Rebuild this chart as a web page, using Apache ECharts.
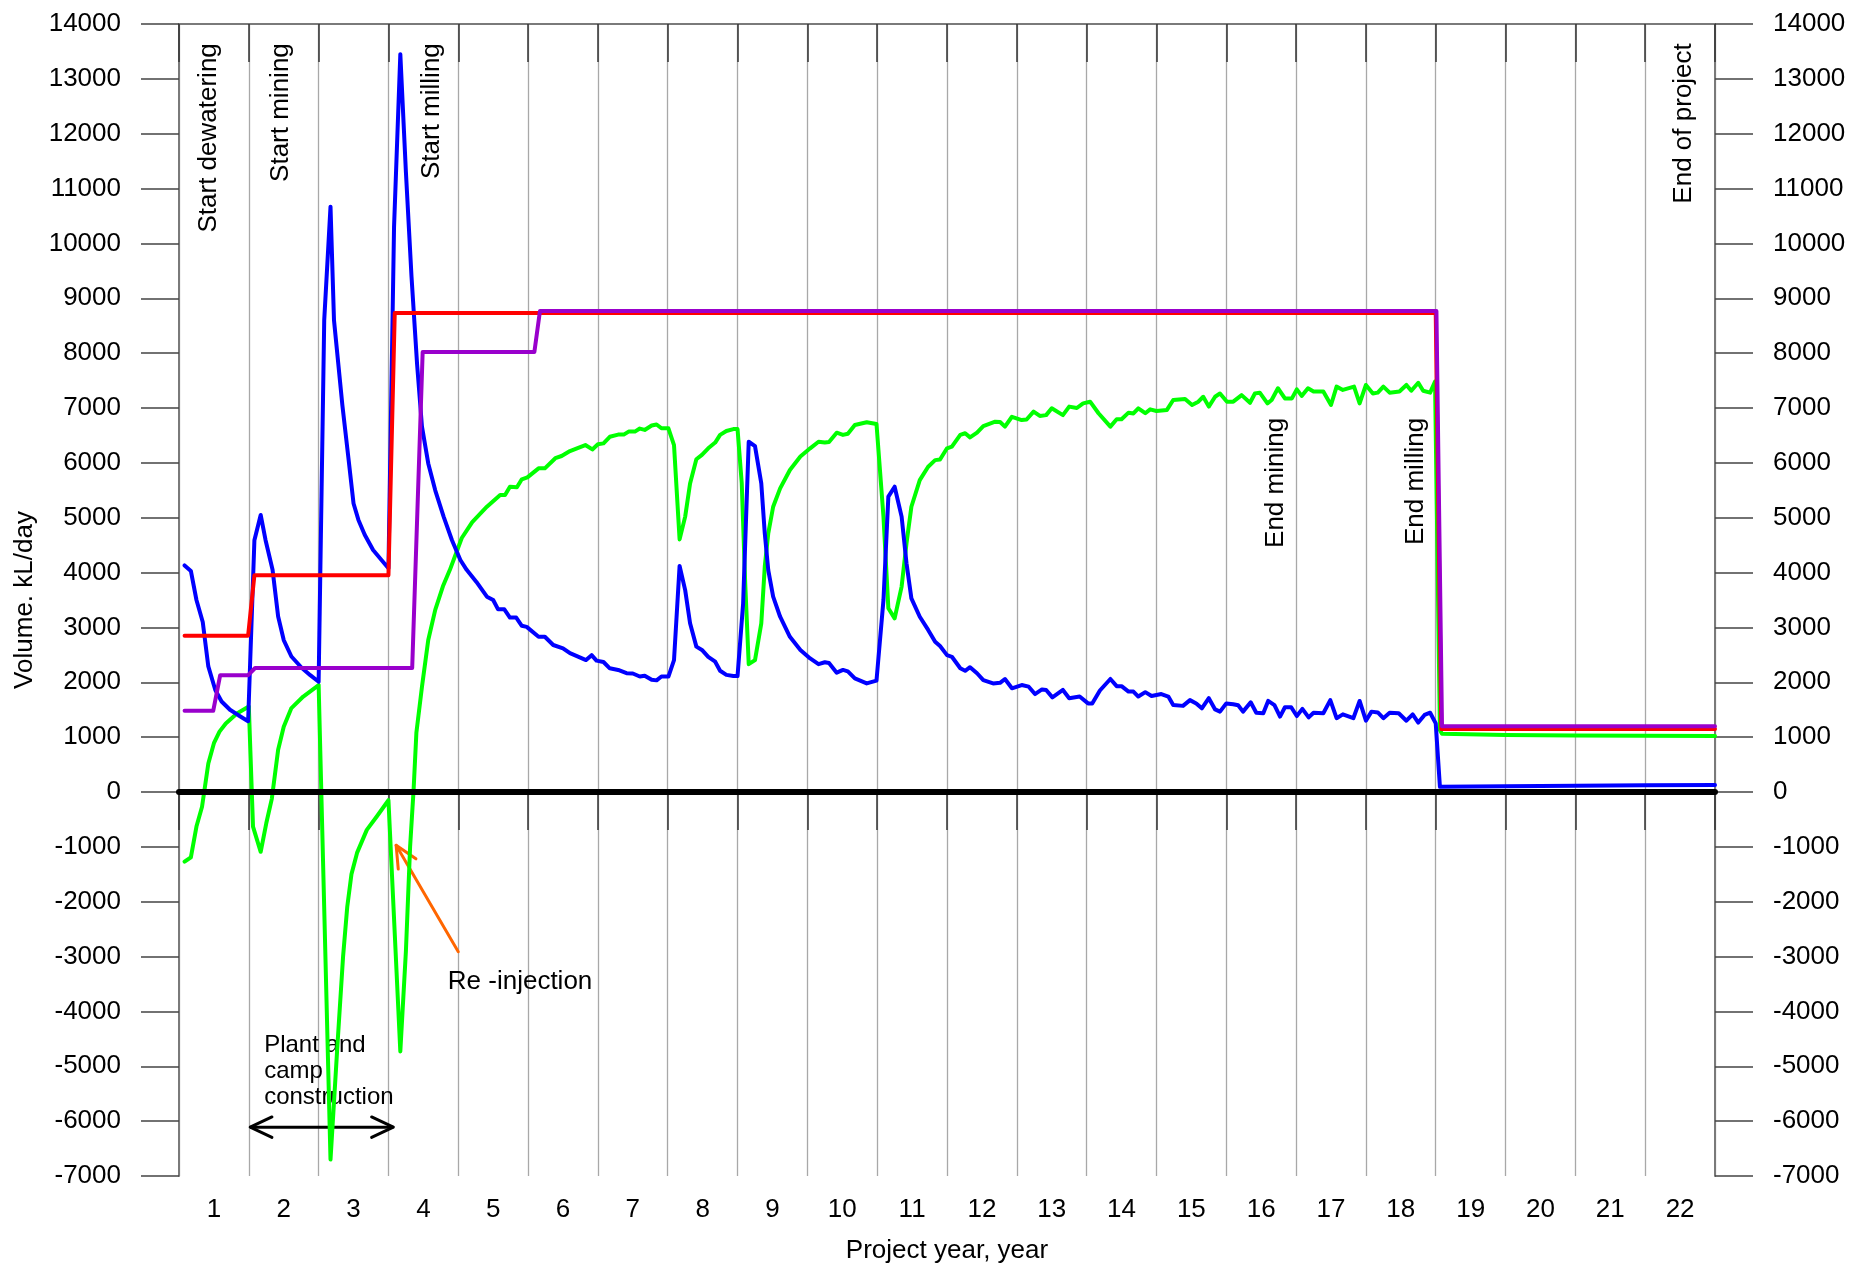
<!DOCTYPE html>
<html>
<head>
<meta charset="utf-8">
<title>Project water balance</title>
<script src="https://cdn.jsdelivr.net/npm/echarts@6.0.0/dist/echarts.min.js"></script>
<style>
  html, body { margin: 0; padding: 0; background: #fff; }
  #chart { width: 1870px; height: 1269px; }
</style>
</head>
<body>
<div id="chart"></div>
<script>
// tick labels of the year axis (one label per project year)
const yearLabels = ['1', '2', '3', '4', '5', '6', '7', '8', '9', '10', '11',
  '12', '13', '14', '15', '16', '17', '18', '19', '20', '21', '22']

// [project year, kL/day]
const redLine = [[0.08, 2850], [0.99, 2850], [1.08, 3950], [3.0, 3950], [3.09, 8730],
  [18.0, 8730], [18.08, 1150], [22, 1150]]

const purpleLine = [[0.08, 1480], [0.49, 1480], [0.59, 2130], [0.99, 2130], [1.09, 2260],
  [3.34, 2260], [3.49, 8020], [5.09, 8020], [5.17, 8770], [18.01, 8770], [18.09, 1200], [22, 1200]]

const blueLine = [
  [0.08, 4130], [0.17, 4030], [0.25, 3500], [0.34, 3100], [0.42, 2290], [0.52, 1860], [0.61, 1650],
  [0.73, 1500], [0.85, 1400], [0.99, 1290],
  [1.08, 4590], [1.17, 5050], [1.24, 4590], [1.34, 4050], [1.42, 3200], [1.5, 2770], [1.61, 2470],
  [1.76, 2260], [1.88, 2130], [2.0, 2010],
  [2.08, 8600], [2.17, 10670], [2.22, 8600], [2.34, 7050], [2.43, 6050], [2.5, 5260], [2.57, 4960],
  [2.66, 4690], [2.78, 4410], [2.9, 4230], [3.0, 4080],
  [3.08, 10300], [3.17, 13450], [3.25, 11300], [3.33, 9400], [3.41, 7800], [3.48, 6660], [3.57, 5990],
  [3.67, 5500], [3.79, 5020], [3.91, 4590], [4.03, 4230], [4.12, 4050], [4.26, 3830], [4.41, 3560],
  [4.5, 3500], [4.57, 3330], [4.66, 3330], [4.74, 3180], [4.83, 3180], [4.91, 3030], [4.98, 3010],
  [5.15, 2830], [5.24, 2830], [5.36, 2680], [5.5, 2620], [5.6, 2530], [5.74, 2455], [5.83, 2405],
  [5.91, 2495], [5.98, 2395], [6.08, 2370], [6.17, 2255], [6.29, 2225], [6.41, 2165], [6.5, 2160],
  [6.6, 2105], [6.67, 2120], [6.77, 2045], [6.84, 2035], [6.91, 2105], [7.01, 2105],
  [7.09, 2405], [7.17, 4120], [7.25, 3680], [7.32, 3075], [7.41, 2650], [7.49, 2590], [7.58, 2465],
  [7.68, 2375], [7.75, 2210], [7.84, 2135], [7.94, 2115], [8.0, 2115],
  [8.08, 3440], [8.16, 6385], [8.25, 6305], [8.34, 5625], [8.39, 4715], [8.44, 4045], [8.51, 3560],
  [8.61, 3195], [8.75, 2830], [8.9, 2590], [9.04, 2435], [9.16, 2330], [9.25, 2365], [9.31, 2350],
  [9.42, 2175], [9.51, 2225], [9.58, 2200], [9.68, 2070], [9.85, 1980], [9.99, 2030],
  [10.09, 3500], [10.16, 5385], [10.25, 5565], [10.35, 5020], [10.42, 4170], [10.49, 3530],
  [10.61, 3195], [10.73, 2955], [10.83, 2740], [10.9, 2660], [11.0, 2495], [11.07, 2465],
  [11.19, 2255], [11.26, 2210], [11.33, 2275], [11.43, 2165], [11.52, 2040], [11.66, 1980],
  [11.76, 1990], [11.83, 2060], [11.93, 1890], [12.07, 1950], [12.17, 1920], [12.26, 1785],
  [12.36, 1870], [12.42, 1860], [12.51, 1725], [12.66, 1860], [12.75, 1710], [12.9, 1740],
  [13.02, 1615], [13.08, 1615], [13.19, 1850], [13.34, 2060], [13.43, 1930], [13.5, 1930],
  [13.6, 1830], [13.67, 1830], [13.74, 1740], [13.84, 1820], [13.93, 1750], [14.07, 1785],
  [14.17, 1740], [14.24, 1585], [14.38, 1570], [14.48, 1675], [14.57, 1615], [14.65, 1525],
  [14.75, 1710], [14.84, 1505], [14.91, 1465], [15.0, 1615], [15.1, 1600], [15.17, 1580],
  [15.24, 1465], [15.35, 1635], [15.43, 1445], [15.53, 1435], [15.6, 1660], [15.69, 1585],
  [15.77, 1375], [15.84, 1545], [15.93, 1545], [16.01, 1385], [16.09, 1515], [16.18, 1360],
  [16.25, 1445], [16.39, 1435], [16.49, 1675], [16.58, 1345], [16.67, 1415], [16.82, 1345],
  [16.91, 1660], [17.0, 1300], [17.08, 1465], [17.17, 1450], [17.25, 1345], [17.34, 1445],
  [17.47, 1435], [17.58, 1300], [17.67, 1415], [17.75, 1265], [17.84, 1405], [17.92, 1445],
  [18.0, 1250],
  [18.06, 95], [19, 105], [20, 115], [21, 122], [22, 128]
]

const greenLine = [
  [0.08, -1270], [0.17, -1190], [0.25, -630], [0.33, -270], [0.42, 520], [0.5, 890], [0.58, 1100],
  [0.67, 1250], [0.83, 1430], [1.0, 1560],
  [1.06, -630], [1.17, -1090], [1.25, -570], [1.33, -120], [1.42, 770], [1.5, 1190], [1.61, 1530],
  [1.78, 1740], [2.0, 1950],
  [2.17, -6700], [2.27, -4600], [2.35, -3000], [2.41, -2090], [2.47, -1500], [2.55, -1110],
  [2.69, -690], [2.83, -450], [3.0, -150],
  [3.17, -4730], [3.25, -2900], [3.31, -1000], [3.36, 40], [3.4, 1080], [3.48, 1920], [3.57, 2770],
  [3.67, 3320], [3.78, 3750], [3.88, 4050], [4.05, 4630], [4.2, 4920], [4.41, 5200], [4.6, 5415],
  [4.67, 5415], [4.74, 5565], [4.84, 5555], [4.91, 5700], [4.99, 5735], [5.15, 5900], [5.24, 5900],
  [5.39, 6085], [5.48, 6125], [5.6, 6215], [5.7, 6265], [5.82, 6325], [5.92, 6245], [6.0, 6340],
  [6.08, 6355], [6.17, 6475], [6.29, 6515], [6.37, 6515], [6.44, 6570], [6.53, 6570], [6.6, 6625],
  [6.67, 6600], [6.77, 6680], [6.84, 6700], [6.91, 6630], [7.01, 6630],
  [7.09, 6325], [7.17, 4605], [7.25, 5020], [7.32, 5625], [7.41, 6065], [7.49, 6145], [7.58, 6265],
  [7.68, 6370], [7.75, 6510], [7.84, 6580], [7.94, 6615], [8.0, 6615],
  [8.06, 5630], [8.11, 3800], [8.16, 2330], [8.25, 2405], [8.34, 3075], [8.39, 4110], [8.44, 4715],
  [8.51, 5200], [8.61, 5535], [8.75, 5870], [8.9, 6115], [9.04, 6265], [9.16, 6385], [9.25, 6370],
  [9.31, 6380], [9.42, 6550], [9.51, 6510], [9.58, 6530], [9.68, 6690], [9.85, 6740], [9.99, 6710],
  [10.09, 5020], [10.16, 3350], [10.25, 3165], [10.35, 3745], [10.42, 4535], [10.49, 5200],
  [10.61, 5685], [10.73, 5930], [10.83, 6050], [10.9, 6060], [11.0, 6265], [11.07, 6295],
  [11.19, 6510], [11.26, 6540], [11.33, 6465], [11.43, 6550], [11.52, 6670], [11.69, 6750],
  [11.76, 6745], [11.83, 6660], [11.93, 6840], [12.07, 6780], [12.14, 6790], [12.24, 6935],
  [12.33, 6855], [12.42, 6870], [12.5, 6995], [12.66, 6870], [12.75, 7025], [12.86, 7000],
  [12.95, 7085], [13.05, 7115], [13.17, 6905], [13.34, 6660], [13.43, 6795], [13.5, 6795],
  [13.6, 6915], [13.67, 6900], [13.74, 6995], [13.84, 6905], [13.91, 6975], [14.0, 6945],
  [14.15, 6965], [14.24, 7145], [14.41, 7165], [14.51, 7055], [14.6, 7115], [14.67, 7205],
  [14.75, 7025], [14.84, 7205], [14.91, 7265], [15.01, 7115], [15.1, 7115], [15.22, 7235],
  [15.34, 7095], [15.41, 7265], [15.48, 7280], [15.59, 7085], [15.65, 7145], [15.74, 7360],
  [15.84, 7175], [15.94, 7175], [16.01, 7340], [16.08, 7220], [16.17, 7360], [16.25, 7300],
  [16.39, 7300], [16.5, 7055], [16.58, 7390], [16.67, 7330], [16.83, 7390], [16.91, 7085],
  [17.0, 7420], [17.1, 7265], [17.17, 7280], [17.25, 7390], [17.34, 7280], [17.48, 7300],
  [17.58, 7420], [17.65, 7315], [17.75, 7460], [17.82, 7315], [17.92, 7280], [17.99, 7480],
  [18.06, 1130], [18.09, 1060], [19, 1040], [20, 1030], [21, 1025], [22, 1020]
]

const zeroLine = [[0, 0], [22, 0]]

const FONT = '"Liberation Sans", Arial, Helvetica, sans-serif'

const chart = echarts.init(document.getElementById('chart'), null, { renderer: 'canvas' })

function lineSeries (name, data, color, width) {
  return {
    name: name,
    type: 'line',
    xAxisIndex: 1,
    yAxisIndex: 0,
    data: data,
    symbol: 'none',
    animation: false,
    itemStyle: { color: color },
    lineStyle: { color: color, width: width, cap: 'round', join: 'round' }
  }
}

const valueAxis = function (position) {
  return {
    type: 'value',
    position: position,
    min: -7000,
    max: 14000,
    interval: 1000,
    axisLine: { show: true, lineStyle: { color: '#7a7a7a', width: 2 } },
    axisTick: { show: true, inside: false, length: 38, lineStyle: { color: '#444', width: 1.5 } },
    axisLabel: { color: '#000', fontSize: 26, fontFamily: FONT, margin: 58, formatter: v => String(v) },
    splitLine: { show: false }
  }
}

const leftAxis = valueAxis('left')
leftAxis.name = 'Volume. kL/day'
leftAxis.nameLocation = 'middle'
leftAxis.nameGap = 140
leftAxis.nameTextStyle = { color: '#000', fontSize: 26, fontFamily: FONT }

const option = {
  animation: false,
  backgroundColor: '#fff',
  grid: { left: 179, right: 155, top: 24, bottom: 93, containLabel: false, outerBoundsMode: 'none' },
  xAxis: [
    {
      // year bands: labels sit between the yearly ticks
      type: 'category',
      position: 'bottom',
      data: yearLabels,
      boundaryGap: true,
      name: 'Project year, year',
      nameLocation: 'middle',
      nameGap: 62,
      nameTextStyle: { color: '#000', fontSize: 26, fontFamily: FONT },
      axisLine: { show: true, lineStyle: { color: '#7a7a7a', width: 2 } },
      axisTick: { show: true, alignWithLabel: false, length: 38, lineStyle: { color: '#333', width: 1.5 } },
      axisLabel: { color: '#000', fontSize: 26, fontFamily: FONT, margin: 21, interval: 0 },
      splitLine: { show: true, lineStyle: { color: '#a8a8a8', width: 1.3 } }
    },
    {
      // hidden numeric axis carrying the data
      type: 'value',
      min: 0,
      max: 22,
      interval: 1,
      show: false
    },
    {
      type: 'category',
      position: 'top',
      data: yearLabels,
      boundaryGap: true,
      axisLine: { show: true, lineStyle: { color: '#7a7a7a', width: 2 } },
      axisTick: { show: true, inside: true, alignWithLabel: false, length: 38, lineStyle: { color: '#333', width: 1.5 } },
      axisLabel: { show: false },
      splitLine: { show: false }
    }
  ],
  yAxis: [leftAxis, valueAxis('right')],
  series: [
    lineSeries('green', greenLine, '#00ff00', 4),
    lineSeries('blue', blueLine, '#0000ff', 4),
    lineSeries('red', redLine, '#ff0000', 4),
    lineSeries('purple', purpleLine, '#9900cc', 4),
    lineSeries('zero', zeroLine, '#000000', 6)
  ]
}

chart.setOption(option)

// ---- annotations, placed in data coordinates ----
const toPx = p => chart.convertToPixel({ xAxisIndex: 1, yAxisIndex: 0 }, p)

// rotated captions: [text, year, value at the top end of the text]
const rotatedNotes = [
  ['Start dewatering', 0.43, 13650],
  ['Start mining', 1.46, 13650],
  ['Start milling', 3.62, 13650],
  ['End of project', 21.56, 13650],
  ['End mining', 15.71, 6820],
  ['End milling', 17.71, 6820]
]

function arrowHead (tip, from, len, spread) {
  const ang = Math.atan2(from[1] - tip[1], from[0] - tip[0])
  const a1 = ang + spread
  const a2 = ang - spread
  return [
    [tip[0] + len * Math.cos(a1), tip[1] + len * Math.sin(a1)],
    tip,
    [tip[0] + len * Math.cos(a2), tip[1] + len * Math.sin(a2)]
  ]
}

const graphics = []

rotatedNotes.forEach(n => {
  const p = toPx([n[1], n[2]])
  graphics.push({
    type: 'text',
    x: p[0],
    y: p[1],
    rotation: Math.PI / 2,
    silent: true,
    style: {
      text: n[0],
      fontSize: 26,
      fontFamily: FONT,
      fill: '#000',
      textAlign: 'right',
      textVerticalAlign: 'middle'
    }
  })
})

// Re-injection arrow
const injTip = toPx([3.11, -970])
const injTail = toPx([4.0, -2910])
graphics.push({
  type: 'polyline',
  silent: true,
  shape: { points: [injTail, injTip] },
  style: { stroke: '#ff6600', lineWidth: 3, fill: null, lineCap: 'round' }
})
graphics.push({
  type: 'polyline',
  silent: true,
  shape: { points: arrowHead(injTip, injTail, 24, 0.44) },
  style: { stroke: '#ff6600', lineWidth: 3, fill: null, lineCap: 'round', lineJoin: 'round' }
})
const injText = toPx([3.85, -3460])
graphics.push({
  type: 'text',
  x: injText[0],
  y: injText[1],
  silent: true,
  style: { text: 'Re -injection', fontSize: 26, fontFamily: FONT, fill: '#000', textAlign: 'left', textVerticalAlign: 'middle' }
})

// plant and camp construction period
const conL = toPx([1.02, -6110])
const conR = toPx([3.07, -6110])
graphics.push({
  type: 'polyline',
  silent: true,
  shape: { points: [conL, conR] },
  style: { stroke: '#000', lineWidth: 3, fill: null }
})
graphics.push({
  type: 'polyline',
  silent: true,
  shape: { points: arrowHead(conL, conR, 24, 0.44) },
  style: { stroke: '#000', lineWidth: 3, fill: null, lineCap: 'round', lineJoin: 'round' }
})
graphics.push({
  type: 'polyline',
  silent: true,
  shape: { points: arrowHead(conR, conL, 24, 0.44) },
  style: { stroke: '#000', lineWidth: 3, fill: null, lineCap: 'round', lineJoin: 'round' }
})
const conText = toPx([1.22, -5090])
graphics.push({
  type: 'text',
  x: conText[0],
  y: conText[1],
  silent: true,
  style: {
    text: 'Plant and\ncamp\nconstruction',
    fontSize: 24,
    lineHeight: 26,
    fontFamily: FONT,
    fill: '#000',
    textAlign: 'left',
    textVerticalAlign: 'middle'
  }
})

chart.setOption({ graphic: { elements: graphics } })
</script>
</body>
</html>
